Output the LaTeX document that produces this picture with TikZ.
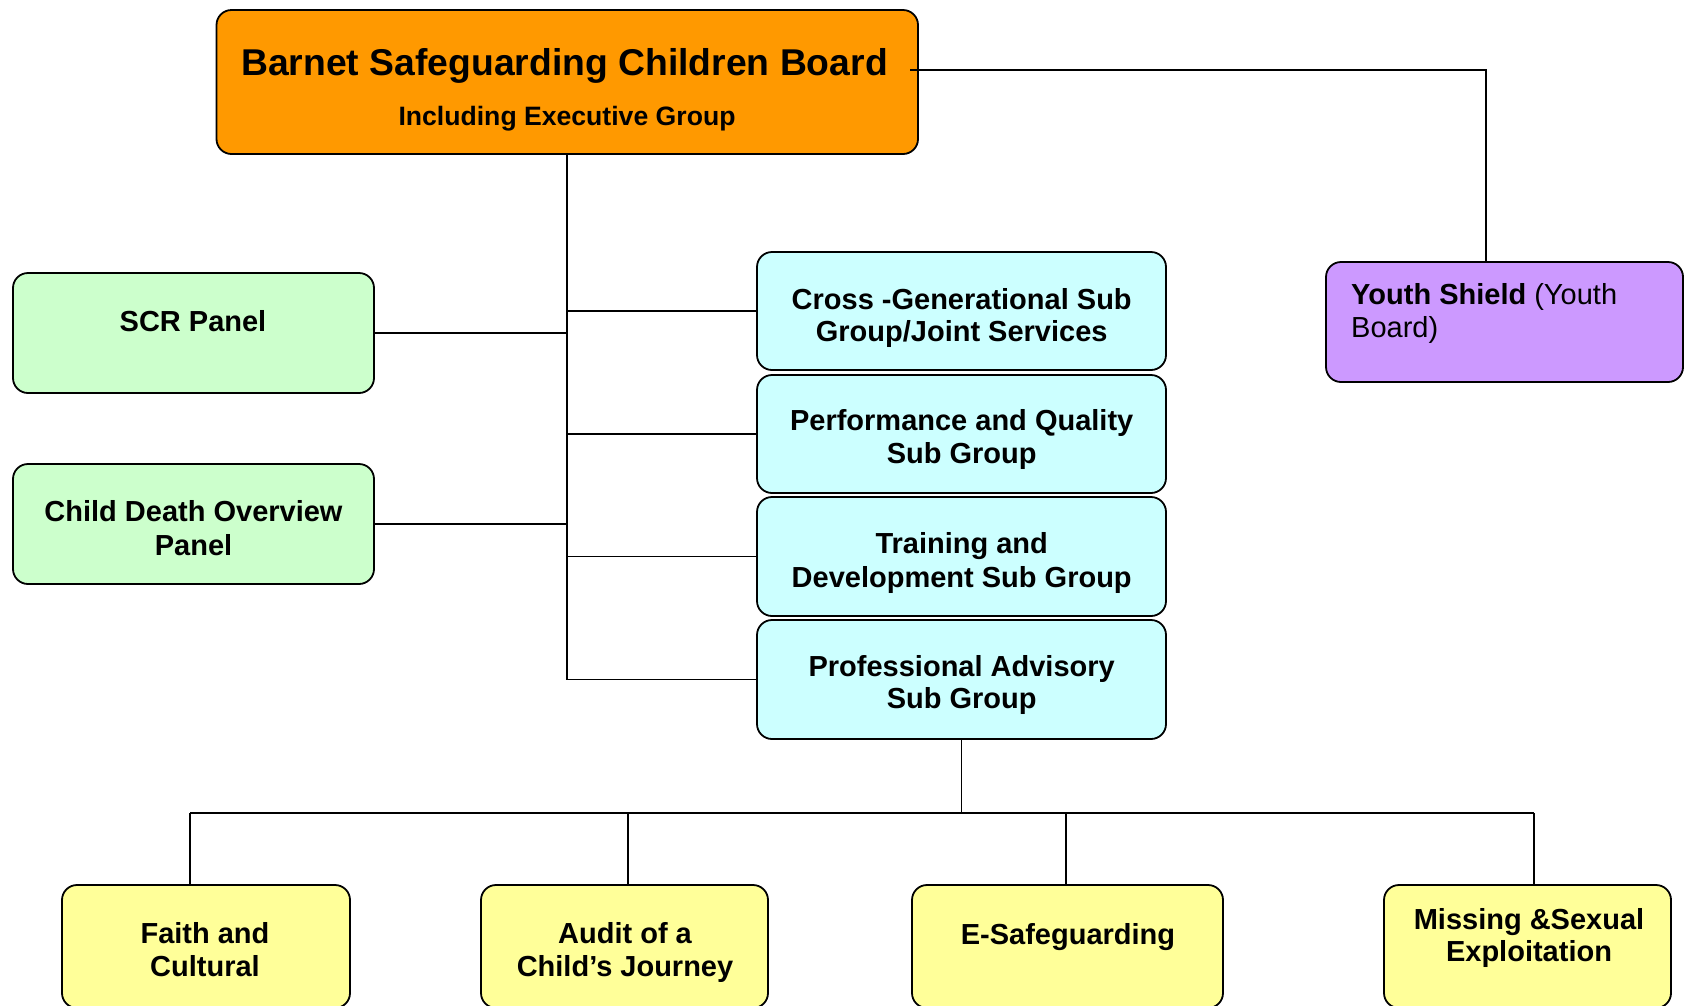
\documentclass[tikz,border=0pt]{standalone}
\usepackage{fontspec}
\setmainfont{Liberation Sans}
\definecolor{boardorange}{RGB}{255,153,0}
\definecolor{panelgreen}{RGB}{204,255,204}
\definecolor{subcyan}{RGB}{204,255,255}
\definecolor{youthpurple}{RGB}{204,153,255}
\definecolor{groupyellow}{RGB}{255,255,153}
\begin{document}
\begin{tikzpicture}[x=1pt,y=-1pt,
  box/.style={draw=black, line width=1.8pt, rounded corners=15pt, inner sep=0pt},
  ln/.style={anchor=base, inner sep=0pt, font=\fontsize{29}{33}\selectfont\bfseries},
  lnreg/.style={anchor=base west, inner sep=0pt, font=\fontsize{29}{33}\selectfont},
  conn/.style={draw=black, line width=1.6pt}]
\useasboundingbox (0,0) rectangle (1685,1005);
% boxes
\node[box, fill=boardorange, minimum width=701.5, minimum height=144] (board) at (567.25,82) {};
\node[box, fill=youthpurple, minimum width=357, minimum height=120] (youth) at (1504.5,322) {};
\node[box, fill=panelgreen, minimum width=361, minimum height=120] (scr) at (193.5,333) {};
\node[box, fill=panelgreen, minimum width=361, minimum height=120] (child) at (193.5,524) {};
\node[box, fill=subcyan, minimum width=409, minimum height=118] (c1) at (961.5,311) {};
\node[box, fill=subcyan, minimum width=409, minimum height=118] (c2) at (961.5,434) {};
\node[box, fill=subcyan, minimum width=409, minimum height=119] (c3) at (961.5,556.5) {};
\node[box, fill=subcyan, minimum width=409, minimum height=119] (c4) at (961.5,679.5) {};
\node[box, fill=groupyellow, minimum width=288, minimum height=123] (faith) at (206,946.5) {};
\node[box, fill=groupyellow, minimum width=287, minimum height=123] (audit) at (624.5,946.5) {};
\node[box, fill=groupyellow, minimum width=311, minimum height=123] (esafe) at (1067.5,946.5) {};
\node[box, fill=groupyellow, minimum width=287, minimum height=123] (missing) at (1527.5,946.5) {};
% texts
\node[ln, font=\fontsize{37.3}{42}\selectfont\bfseries] (t1) at (564.5,75.5) {Barnet Safeguarding Children Board};
\node[ln, font=\fontsize{26.6}{31}\selectfont\bfseries] (t2) at (567,125) {Including Executive Group};
\node[lnreg] (y1) at (1351,304) {\textbf{Youth Shield} (Youth};
\node[lnreg] (y2) at (1351,337) {Board)};
\node[ln] (s1) at (193,331) {SCR Panel};
\node[ln] (d1) at (193.5,521.7) {Child Death Overview};
\node[ln] (d2) at (193.5,555.7) {Panel};
\node[ln] (a1) at (961.7,309) {Cross -Generational Sub};
\node[ln] (a2) at (961.7,341) {Group/Joint Services};
\node[ln] (b1) at (961.7,430.7) {Performance and Quality};
\node[ln] (b2) at (961.7,463.3) {Sub Group};
\node[ln] (e1) at (961.7,553.3) {Training and};
\node[ln] (e2) at (961.7,587.7) {Development Sub Group};
\node[ln] (p1) at (961.7,676) {Professional Advisory};
\node[ln] (p2) at (961.7,708.3) {Sub Group};
\node[ln] (f1) at (205,943.3) {Faith and};
\node[ln] (f2) at (205,976) {Cultural};
\node[ln] (u1) at (625,943.3) {Audit of a};
\node[ln] (u2) at (625,976) {Child’s Journey};
\node[ln] (g1) at (1068,944) {E-Safeguarding};
\node[ln] (m1) at (1529,929.3) {Missing \&Sexual};
\node[ln] (m2) at (1529,961.7) {Exploitation};
% connector anchor points
\coordinate (bt) at (910,70);
\coordinate (ytop) at (1486,262);
\coordinate (bus) at (0,813);
\coordinate (fT) at (190,885);
\coordinate (uT) at (628,885);
\coordinate (gT) at (1066,885);
\coordinate (mT) at (1534,885);
% connectors
\draw[conn] (bt) -| (ytop);
\draw[conn] (board.south) |- (c4.west);
\draw[conn] (c1.west) -- (c1.west -| board.south);
\draw[conn] (c2.west) -- (c2.west -| board.south);
\draw[conn] (c3.west) -- (c3.west -| board.south);
\draw[conn] (scr.east) -- (scr.east -| board.south);
\draw[conn] (child.east) -- (child.east -| board.south);
\draw[conn, line width=1.2pt] (c4.south) -- (c4.south |- bus);
\draw[conn] (fT |- bus) -- (mT |- bus);
\draw[conn] (fT |- bus) -- (fT);
\draw[conn] (uT |- bus) -- (uT);
\draw[conn] (gT |- bus) -- (gT);
\draw[conn] (mT |- bus) -- (mT);
\end{tikzpicture}
\end{document}
